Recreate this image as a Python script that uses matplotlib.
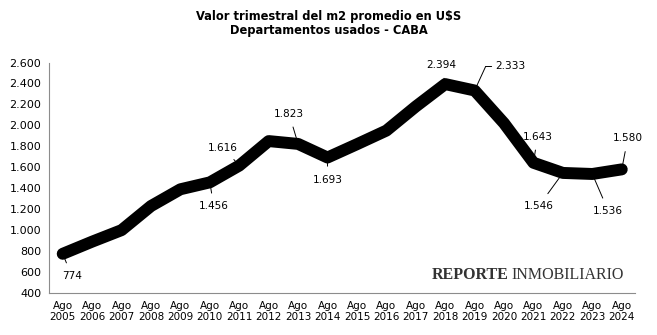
import numpy as np
import matplotlib
matplotlib.use("Agg")
import matplotlib.pyplot as plt
from matplotlib.transforms import offset_copy

years = list(range(2005, 2025))
etiquetas = [f"Ago\n{y}" for y in years]
valores = [774, 890, 1000, 1230, 1390, 1456, 1616, 1850, 1823, 1693,
           1820, 1950, 2180, 2394, 2333, 2020, 1643, 1546, 1536, 1580]

# anotaciones: indice -> desplazamiento del texto en pixeles
anotados = {0: (9, -22), 5: (4, -24), 6: (-16, 18), 8: (-9, 30), 9: (0, -22),
            13: (-4, 19), 16: (4, 26), 17: (-24, -33),
            18: (16, -37), 19: (6, 31)}


def fmt_miles(v):
    return f"{int(v):,}".replace(",", ".")


fig = plt.figure(figsize=(6.57, 3.35), dpi=100)
ax = fig.add_axes([0.0753, 0.1254, 0.8912, 0.688])

x = np.arange(len(valores))
ax.plot(x, valores, color='black', linewidth=8.6, solid_capstyle='round',
        solid_joinstyle='round', zorder=4)
ax.set_xlim(-0.45, len(valores) - 0.55)
ax.set_ylim(400, 2600)

for i, (dx, dy) in anotados.items():
    ax.annotate(fmt_miles(valores[i]), xy=(i, valores[i]), xytext=(dx, dy),
                textcoords='offset pixels', ha='center', va='center',
                fontsize=7.6, zorder=3,
                arrowprops=dict(arrowstyle='-', color='black', lw=0.7,
                                shrinkA=4, shrinkB=0))

# 2.333 con guia quebrada
i = 14
esquina = offset_copy(ax.transData, fig=fig, units='dots', x=11, y=24)
ax.text(i, valores[i], fmt_miles(valores[i]), fontsize=7.6, ha='left', va='center',
        transform=offset_copy(ax.transData, fig=fig, units='dots', x=21, y=24))
ax.annotate('', xy=(i, valores[i]), xytext=(11, 24), textcoords='offset pixels',
            arrowprops=dict(arrowstyle='-', color='black', lw=0.7, shrinkA=0, shrinkB=0),
            zorder=3)
ax.annotate('', xy=(i, valores[i]), xycoords=esquina, xytext=(6, 0),
            textcoords='offset pixels',
            arrowprops=dict(arrowstyle='-', color='black', lw=0.7, shrinkA=0, shrinkB=0),
            zorder=3)

ax.set_yticks(np.arange(400, 2601, 200))
ax.set_yticklabels([fmt_miles(v) for v in np.arange(400, 2601, 200)], fontsize=8)
ax.set_xticks(x)
ax.set_xticklabels(etiquetas, fontsize=7.5, linespacing=1.1)
ax.tick_params(length=0, pad=6)
for s in ['top', 'right']:
    ax.spines[s].set_visible(False)
for s in ['left', 'bottom']:
    ax.spines[s].set_color('#8c8c8c')
    ax.spines[s].set_linewidth(0.8)

fig.text(0.5, 0.97, "Valor trimestral del m2 promedio en U$S\nDepartamentos usados - CABA",
         ha='center', va='top', fontsize=9.2, fontweight='bold', linespacing=1.1,
         family=['DejaVu Sans Condensed', 'DejaVu Sans'], stretch='condensed')

fig.text(432 / 657, 1 - 275 / 335, "REPORTE", ha='left', va='center',
         fontsize=11.5, fontweight='bold', family='Liberation Serif', color='#333333')
fig.text(624 / 657, 1 - 275 / 335, "INMOBILIARIO", ha='right', va='center',
         fontsize=11.5, family='Liberation Serif', color='#333333')

fig.savefig("out.png", dpi=100)
